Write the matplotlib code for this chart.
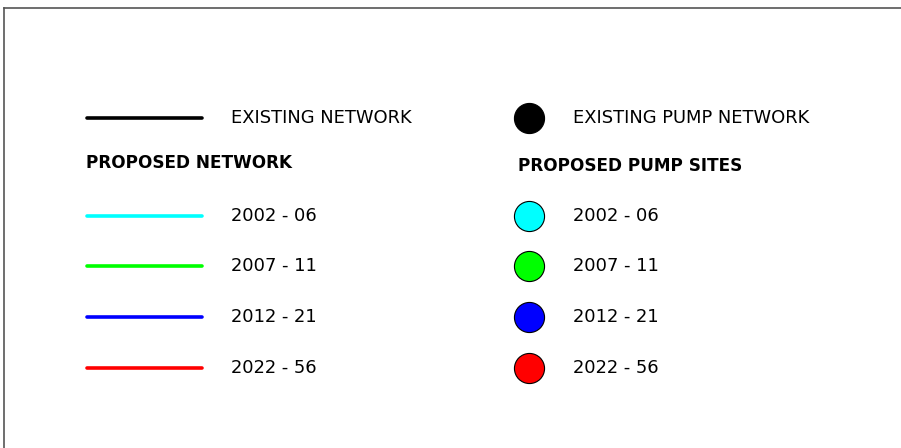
import matplotlib
matplotlib.use('Agg')
from matplotlib import pyplot as plt

# legend content
periods = ['2002 - 06', '2007 - 11', '2012 - 21', '2022 - 56']
period_colors = ['#00ffff', '#00ff00', '#0000ff', '#ff0000']
line_headers = ['EXISTING NETWORK', 'PROPOSED NETWORK']
pump_headers = ['EXISTING PUMP NETWORK', 'PROPOSED PUMP SITES']

plt.rcParams['font.family'] = ['DejaVu Sans']

fig = plt.figure(figsize=(9.01, 4.48), dpi=100)
ax = fig.add_axes([0, 0, 1, 1])
ax.set_xlim(0, 901)
ax.set_ylim(448, 0)
ax.axis('off')

# frame (top and left only visible)
ax.plot([3.5, 901], [8.5, 8.5], color='#555555', lw=1.2)
ax.plot([3.5, 3.5], [8.5, 448], color='#555555', lw=1.2)

row_y = [216, 266, 317, 368]
fs = 12.9
fsb = 12.2

# left column: network lines
ax.plot([87, 202], [118, 118], color='black', lw=2.6, solid_capstyle='round')
ax.text(231, 118, line_headers[0], fontsize=fs, va='center', ha='left')
ax.text(86, 163, line_headers[1], fontsize=fsb, fontweight='bold', va='center', ha='left')
for y, lab, c in zip(row_y, periods, period_colors):
    ax.plot([87, 202], [y, y], color=c, lw=2.6, solid_capstyle='round')
    ax.text(231, y, lab, fontsize=fs, va='center', ha='left')

# right column: pump sites
ax.scatter([529], [118], s=470, color='black', edgecolor='black', lw=0.8, zorder=3)
ax.text(573, 118, pump_headers[0], fontsize=fs, va='center', ha='left')
ax.text(518, 166, pump_headers[1], fontsize=fsb, fontweight='bold', va='center', ha='left')
for y, lab, c in zip(row_y, periods, period_colors):
    ax.scatter([529], [y], s=470, color=c, edgecolor='black', lw=0.8, zorder=3)
    ax.text(573, y, lab, fontsize=fs, va='center', ha='left')

fig.savefig('out.png', dpi=100)
